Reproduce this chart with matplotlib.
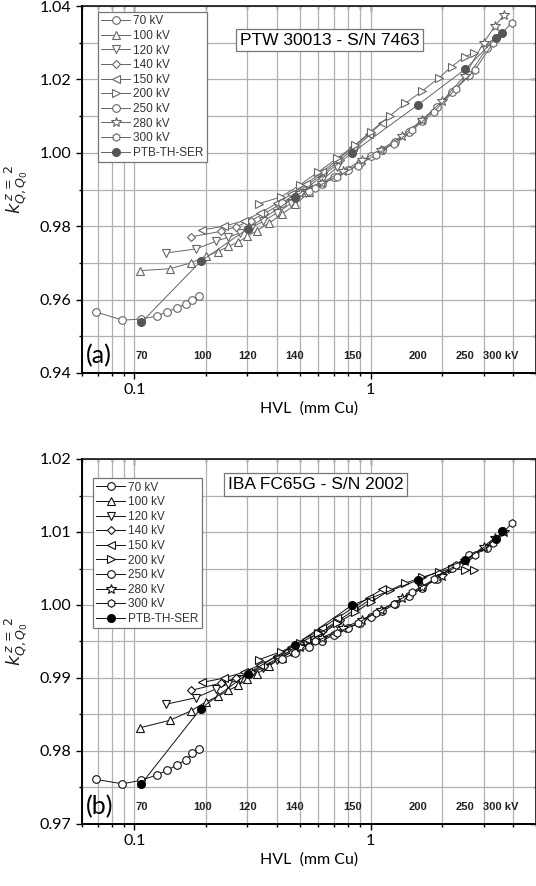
import matplotlib
matplotlib.use("Agg")
import matplotlib.pyplot as plt
from matplotlib.ticker import FixedLocator, LogLocator, MultipleLocator, FormatStrFormatter, NullFormatter

# ---- data (HVL in mm Cu, k factor) ----
series_labels = ["70 kV", "100 kV", "120 kV", "140 kV", "150 kV", "200 kV", "250 kV", "280 kV", "300 kV"]
series_markers = ["o", "^", "v", "D", "<", ">", "o", "*", "h"]

hvl_70 = [0.069, 0.089, 0.107, 0.124, 0.138, 0.152, 0.165, 0.176, 0.188]
hvl_100 = [0.106, 0.141, 0.1735, 0.20, 0.226, 0.25, 0.275, 0.30, 0.33, 0.37, 0.42, 0.48, 0.55]
hvl_120 = [0.136, 0.182, 0.221, 0.25, 0.28, 0.31, 0.35, 0.40, 0.46, 0.53, 0.62, 0.72]
hvl_140 = [0.1735, 0.232, 0.27, 0.31, 0.355, 0.41, 0.47, 0.54, 0.63, 0.74, 0.86, 1.0]
hvl_150 = [0.194, 0.24, 0.29, 0.34, 0.40, 0.46, 0.53, 0.62, 0.72, 0.84, 0.98, 1.12]
hvl_200 = [0.335, 0.417, 0.5, 0.6, 0.72, 0.86, 1.0, 1.2, 1.4, 1.65, 1.95, 2.2, 2.5, 2.72]
hvl_250 = [0.42, 0.48, 0.55, 0.62, 0.7, 0.8, 0.9, 1.0, 1.12, 1.27, 1.45, 1.65, 1.9, 2.2, 2.6, 3.1]
hvl_280 = [0.5, 0.62, 0.76, 0.92, 1.1, 1.35, 1.65, 2.0, 2.5, 3.0, 3.35, 3.65]
hvl_300 = [0.58, 0.72, 0.88, 1.05, 1.25, 1.5, 1.85, 2.3, 2.75, 3.3, 3.95]
hvl_ptb = [0.107, 0.1905, 0.301, 0.478, 0.834, 1.585, 2.51, 3.39, 3.6]

# panel (a) PTW 30013
k_a_70 = [0.9566, 0.9544, 0.9547, 0.9555, 0.9567, 0.9578, 0.9589, 0.9600, 0.9609]
k_a_100 = [0.9679, 0.9684, 0.9700, 0.9718, 0.9731, 0.9745, 0.9757, 0.9772, 0.9788, 0.9808, 0.9832, 0.9860, 0.9892]
k_a_120 = [0.9727, 0.9738, 0.9759, 0.9770, 0.9782, 0.9795, 0.9813, 0.9836, 0.9862, 0.9890, 0.9925, 0.9960]
k_a_140 = [0.9771, 0.9786, 0.9799, 0.9815, 0.9835, 0.9858, 0.9884, 0.9912, 0.9945, 0.9980, 1.0015, 1.0050]
k_a_150 = [0.9790, 0.9800, 0.9815, 0.9836, 0.9862, 0.9887, 0.9914, 0.9947, 0.9980, 1.0015, 1.0050, 1.0082]
k_a_200 = [0.9861, 0.9880, 0.9912, 0.9948, 0.9985, 1.0022, 1.0058, 1.0100, 1.0135, 1.0168, 1.0205, 1.0235,
           1.0262, 1.0272]
k_a_250 = [0.9862, 0.9878, 0.9897, 0.9915, 0.9933, 0.9953, 0.9972, 0.9990, 1.0008, 1.0030, 1.0058, 1.0088,
           1.0125, 1.0165, 1.0212, 1.0285]
k_a_280 = [0.9890, 0.9918, 0.9950, 0.9980, 1.0008, 1.0045, 1.0090, 1.0140, 1.0210, 1.0300, 1.0345, 1.0375]
k_a_300 = [0.9905, 0.9935, 0.9965, 0.9995, 1.0025, 1.0062, 1.0112, 1.0175, 1.0225, 1.0300, 1.0355]
k_a_ptb = [0.9538, 0.9704, 0.9793, 0.9879, 1.0000, 1.0131, 1.0228, 1.0312, 1.0327]

# panel (b) IBA FC65G
k_b_70 = [0.9761, 0.9755, 0.9760, 0.9767, 0.9774, 0.9781, 0.9788, 0.9797, 0.9803]
k_b_100 = [0.9832, 0.9842, 0.9855, 0.9867, 0.9875, 0.9883, 0.9890, 0.9898, 0.9906, 0.9916, 0.9928, 0.9940, 0.9953]
k_b_120 = [0.9864, 0.9873, 0.9885, 0.9892, 0.9899, 0.9906, 0.9914, 0.9924, 0.9935, 0.9947, 0.9961, 0.9974]
k_b_140 = [0.9883, 0.9893, 0.9900, 0.9908, 0.9917, 0.9928, 0.9940, 0.9952, 0.9966, 0.9980, 0.9994, 1.0008]
k_b_150 = [0.9894, 0.9900, 0.9908, 0.9918, 0.9930, 0.9942, 0.9954, 0.9968, 0.9982, 0.9996, 1.0010, 1.0022]
k_b_200 = [0.9925, 0.9936, 0.9948, 0.9961, 0.9975, 0.9990, 1.0004, 1.0020, 1.0030, 1.0038, 1.0045, 1.0050,
           1.0048, 1.0048]
k_b_250 = [0.9926, 0.9934, 0.9943, 0.9951, 0.9959, 0.9968, 0.9976, 0.9984, 0.9992, 1.0001, 1.0012, 1.0023,
           1.0036, 1.0051, 1.0068, 1.0078]
k_b_280 = [0.9942, 0.9955, 0.9968, 0.9980, 0.9993, 1.0009, 1.0024, 1.0040, 1.0060, 1.0080, 1.0092, 1.0100]
k_b_300 = [0.9950, 0.9962, 0.9975, 0.9989, 1.0002, 1.0018, 1.0035, 1.0055, 1.0068, 1.0085, 1.0112]
k_b_ptb = [0.9755, 0.9858, 0.9906, 0.9945, 1.0000, 1.0034, 1.0062, 1.0090, 1.0101]

kv_names = ["70", "100", "120", "140", "150", "200", "250"]
kv_pos = [0.107, 0.195, 0.30, 0.478, 0.834, 1.585, 2.51]

hvl_all = [hvl_70, hvl_100, hvl_120, hvl_140, hvl_150, hvl_200, hvl_250, hvl_280, hvl_300]
k_a_all = [k_a_70, k_a_100, k_a_120, k_a_140, k_a_150, k_a_200, k_a_250, k_a_280, k_a_300]
k_b_all = [k_b_70, k_b_100, k_b_120, k_b_140, k_b_150, k_b_200, k_b_250, k_b_280, k_b_300]

TICK_FONT = "Lato"
TEXT_FONT = "Liberation Sans"


def marker_size(m):
    if m == "D":
        return 4.3
    if m == "*":
        return 7.5
    return 5.5


def draw_panel(ax, k_all, k_ptb, ylim, ymaj, ymin, edge, fill, title, title_xy, leg_xy, letter):
    for hvl, k, lab, m in zip(hvl_all, k_all, series_labels, series_markers):
        ax.plot(hvl, k, marker=m, ms=marker_size(m), mfc="white", mec=edge, mew=0.8,
                color=edge, lw=0.7, label=lab, zorder=3)
    ax.plot(hvl_ptb, k_ptb, marker="o", ms=5.5, mfc=fill, mec=fill, color=edge, lw=0.7,
            label="PTB-TH-SER", zorder=4)

    ax.set_xscale("log")
    ax.set_xlim(0.06, 5)
    ax.set_ylim(*ylim)
    ax.xaxis.set_major_locator(FixedLocator([0.1, 1]))
    ax.set_xticklabels(["0.1", "1"])
    ax.xaxis.set_minor_locator(LogLocator(base=10, subs=range(2, 10)))
    ax.xaxis.set_minor_formatter(NullFormatter())
    ax.yaxis.set_major_locator(MultipleLocator(ymaj))
    ax.yaxis.set_minor_locator(MultipleLocator(ymin))
    ax.yaxis.set_major_formatter(FormatStrFormatter("%.2f"))
    ax.grid(True, which="both", color="#b0b0b0", lw=0.9, zorder=0)
    ax.set_axisbelow(True)

    ax.tick_params(which="both", direction="out", top=False, right=False,
                   labelsize=11.5, width=1.0)
    ax.tick_params(which="major", length=4)
    ax.tick_params(which="minor", length=2.4)
    for lbl in ax.get_xticklabels() + ax.get_yticklabels():
        lbl.set_fontfamily(TICK_FONT)
    for s in ["left", "bottom"]:
        ax.spines[s].set_linewidth(1.4)
    ax.spines["top"].set_linewidth(1.1)
    ax.spines["right"].set_linewidth(1.1)

    top = ax.secondary_xaxis("top")
    top.tick_params(which="both", direction="in", labeltop=False, width=1.0)
    top.tick_params(which="major", length=4)
    top.tick_params(which="minor", length=2.4)
    top.xaxis.set_major_locator(FixedLocator([0.1, 1]))
    top.xaxis.set_minor_locator(LogLocator(base=10, subs=range(2, 10)))
    top.xaxis.set_minor_formatter(NullFormatter())
    top.spines["top"].set_visible(False)
    right = ax.secondary_yaxis("right")
    right.tick_params(which="both", direction="in", labelright=False, width=1.0)
    right.tick_params(which="major", length=4)
    right.tick_params(which="minor", length=2.4)
    right.yaxis.set_major_locator(MultipleLocator(ymaj))
    right.yaxis.set_minor_locator(MultipleLocator(ymin))
    right.spines["right"].set_visible(False)

    ax.set_xlabel("HVL  (mm Cu)", fontsize=11.5, fontfamily=TICK_FONT, labelpad=3)
    ax.set_ylabel(r"$k^{\,z\,=\,2}_{Q,Q_0}$", fontsize=13, color="#222222")
    ax.yaxis.set_label_coords(-0.115, 0.5)

    leg = ax.legend(loc="upper left", bbox_to_anchor=leg_xy, borderaxespad=0,
                    prop={"family": TEXT_FONT, "size": 8.5}, labelspacing=0.22,
                    borderpad=0.3, handlelength=2.4, handletextpad=0.25,
                    fancybox=False, framealpha=1, edgecolor="#777777")
    leg.get_frame().set_linewidth(0.9)
    for t in leg.get_texts():
        t.set_color("#333333")

    ax.text(title_xy[0], title_xy[1], title, transform=ax.transAxes, ha="center", va="center",
            fontsize=12.5, fontfamily=TEXT_FONT, zorder=6,
            bbox=dict(boxstyle="square,pad=0.22", fc="white", ec="#777777", lw=0.9))

    for name, x in zip(kv_names, kv_pos):
        ax.text(x, 0.033, name, transform=ax.get_xaxis_transform(), ha="center", va="bottom",
                fontsize=8, fontweight="bold", fontfamily=TEXT_FONT, color="#222222")
    ax.text(2.98, 0.033, "300 kV", transform=ax.get_xaxis_transform(), ha="left", va="bottom",
            fontsize=8, fontweight="bold", fontfamily=TEXT_FONT, color="#222222")
    ax.text(0.008, 0.015, letter, transform=ax.transAxes, ha="left", va="bottom",
            fontsize=18, fontfamily=TICK_FONT)


fig = plt.figure(figsize=(5.36, 8.86), dpi=100)
ax1 = fig.add_axes([82 / 536, 1 - 373 / 886, 454 / 536, 367 / 886])
ax2 = fig.add_axes([82 / 536, 1 - 824 / 886, 454 / 536, 365 / 886])

draw_panel(ax1, k_a_all, k_a_ptb, (0.94, 1.04), 0.02, 0.01, "#666666", "#555555",
           "PTW 30013 - S/N 7463", (0.545, 0.907), (0.035, 0.984), "(a)")
draw_panel(ax2, k_b_all, k_b_ptb, (0.97, 1.02), 0.01, 0.005, "#111111", "black",
           "IBA FC65G - S/N 2002", (0.514, 0.930), (0.024, 0.948), "(b)")

fig.savefig("out.png", dpi=100)
